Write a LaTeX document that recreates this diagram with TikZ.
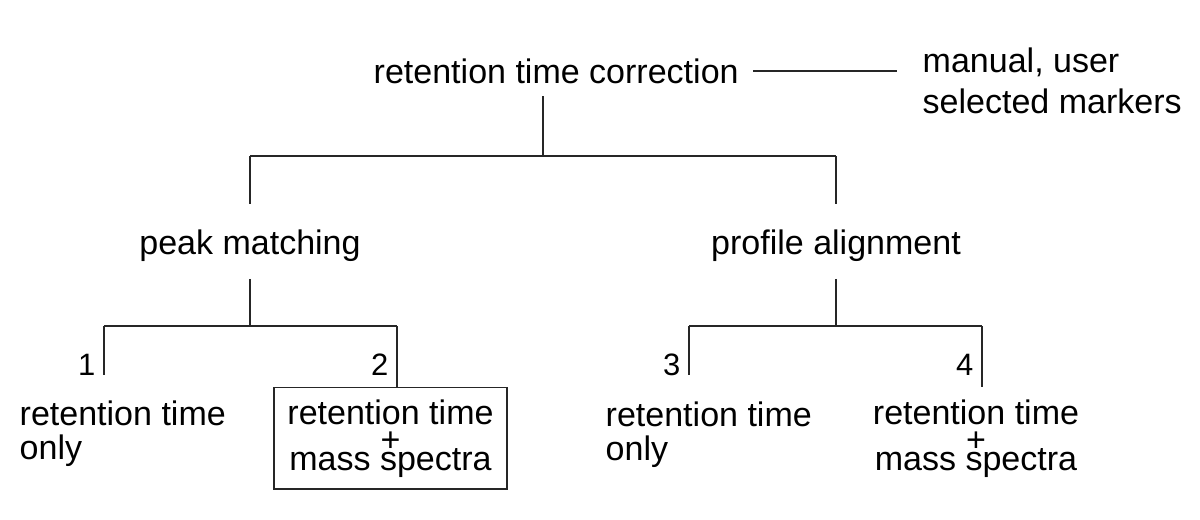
\documentclass[tikz,border=0pt]{standalone}
\usepackage{fontspec}
\setmainfont{Liberation Sans}
\usetikzlibrary{positioning}

\begin{document}
\begin{tikzpicture}[
        line width=1pt, draw=black!85,
        font=\fontsize{24.2}{24.2}\selectfont,
        heading/.style={inner sep=0pt},
        leaf/.style={align=left, inner sep=0pt, anchor=north west},
        combined/.style={align=center, inner xsep=0.34cm, inner ysep=0.3cm, anchor=north},
        digit/.style={font=\fontsize{22}{22}\selectfont, inner sep=0pt, anchor=base east}
    ]
        \useasboundingbox (0,0) rectangle (30,-12.975);

        \node[heading, anchor=base west] (correction) at (9.325,-2.075)
            {retention time correction};
        \node[leaf] (manualMarkers) at (23.05,-1.175)
            {manual, user\\[0.175cm]selected markers};
        \node[heading, anchor=base] (peakMatching) at (6.25,-6.35)
            {peak matching};
        \node[heading, anchor=base] (profileAlignment) at (20.9,-6.35)
            {profile alignment};

        \node[leaf] (rtOnlyPeak) at (0.475,-10.0)
            {retention time\\only};
        \node[combined, draw] (rtMassPeak) at (9.7625,-9.675)
            {retention time\\[-0.16cm]+\\[-0.4cm]mass spectra};
        \node[leaf] (rtOnlyProfile) at (15.125,-10.025)
            {retention time\\only};
        \node[combined] (rtMassProfile) at (24.4,-9.675)
            {retention time\\[-0.16cm]+\\[-0.4cm]mass spectra};

        \coordinate (split) at (13.575,-3.9);
        \coordinate (splitPeak) at (6.25,-8.15);
        \coordinate (splitProfile) at (20.9,-8.15);
        \foreach \x [count=\i] in {2.6,9.925,17.225,24.55} {
            \coordinate (stem\i) at (\x,-8.15);
            \node[digit] (num\i) at (\x-0.2,-9.375) {\i};
        }

        \draw[shorten <=0.35cm, shorten >=0.625cm]
            (correction.east) -- (correction.east -| manualMarkers.west);
        \draw[shorten <=0.3cm] (correction.south -| split) -- (split);
        \draw (peakMatching |- split) -- (profileAlignment |- split);
        \draw[shorten >=0.62cm] (peakMatching |- split) -- (peakMatching.north);
        \draw[shorten >=0.62cm] (profileAlignment |- split) -- (profileAlignment.north);

        \draw[shorten <=0.425cm] (peakMatching.south) -- (splitPeak);
        \draw[shorten <=0.425cm] (profileAlignment.south) -- (splitProfile);
        \draw (stem1) -- (stem2);
        \draw (stem3) -- (stem4);
        \draw (stem1) -- (stem1 |- num1.base);
        \draw (stem2) -- (stem2 |- rtMassPeak.north);
        \draw (stem3) -- (stem3 |- num3.base);
        \draw (stem4) -- (stem4 |- rtMassProfile.north);
    \end{tikzpicture}
\end{document}
